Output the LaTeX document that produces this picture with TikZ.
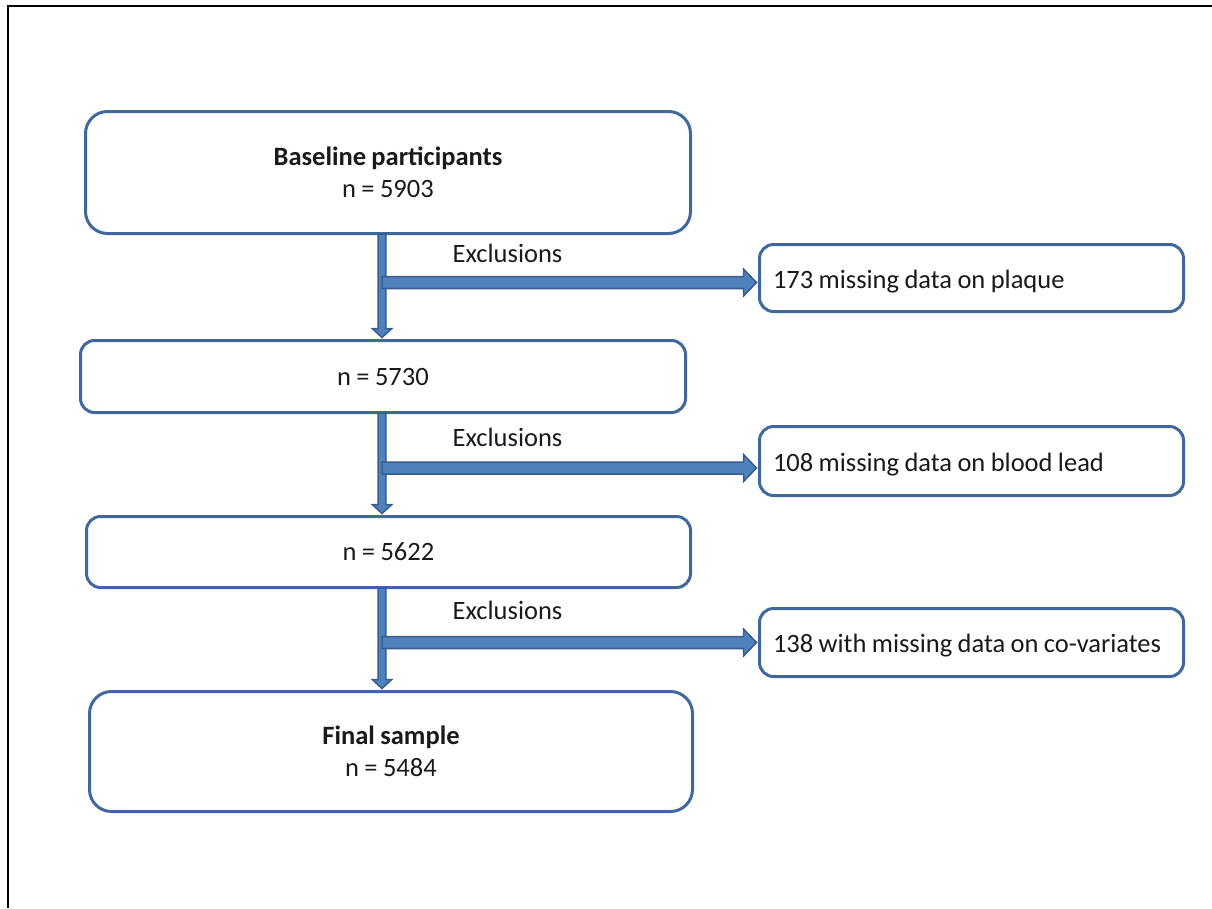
\documentclass[tikz,border=0pt]{standalone}
\usepackage{fontspec}
\setmainfont{Carlito}[WordSpace=0.9]
\usetikzlibrary{calc}
\definecolor{boxline}{HTML}{40689C}
\definecolor{arrfill}{HTML}{4F81BD}
\definecolor{arrline}{HTML}{385D8A}
\definecolor{txt}{HTML}{1A1A1A}
\tikzset{
  every node/.style={font=\fontsize{26.5}{32}\selectfont, text=txt},
  bigbox/.style={draw=boxline, line width=3pt, fill=white, rounded corners=22pt, inner sep=0pt, align=center},
  smallbox/.style={draw=boxline, line width=3pt, fill=white, rounded corners=14pt, inner sep=0pt, align=center},
  sidebox/.style={draw=boxline, line width=3pt, fill=white, rounded corners=14pt, inner xsep=13.5pt, inner ysep=0pt,
    minimum width=424pt, text height=22pt, text depth=2pt},
  vfat/.style={fill=arrfill, draw=arrline, line width=1.5pt, line join=miter,
    to path={($(\tikztostart)+(-3.8,0)$) -- ($(\tikztotarget)+(-3.8,-9)$) -- ($(\tikztotarget)+(-9.8,-9)$)
      -- (\tikztotarget) -- ($(\tikztotarget)+(9.8,-9)$) -- ($(\tikztotarget)+(3.8,-9)$)
      -- ($(\tikztostart)+(3.8,0)$) -- cycle}},
  hfat/.style={fill=arrfill, draw=arrline, line width=1.5pt, line join=miter,
    to path={($(\tikztostart)+(0,-6)$) -- ($(\tikztotarget)+(-13,-6)$) -- ($(\tikztotarget)+(-13,-13.5)$)
      -- (\tikztotarget) -- ($(\tikztotarget)+(-13,13.5)$) -- ($(\tikztotarget)+(-13,6)$)
      -- ($(\tikztostart)+(0,6)$) -- cycle}},
  exlabel/.style={inner sep=0pt}
}
\newcommand{\sidetext}[1]{\makebox[397pt][l]{#1}}
\begin{document}
\begin{tikzpicture}[x=1pt,y=-1pt]
\useasboundingbox (0,0) rectangle (1212,908);
% frame
\draw[black, line width=2.2pt] (8,908) -- (8,6) -- (1212,6);

% main boxes
\node[bigbox, minimum width=605pt, minimum height=122pt] (b1) at (388,172.5)
  {\textbf{Baseline participants}\\n = 5903};
\node[smallbox, minimum width=605pt, minimum height=72pt] (b2) at (383,376.5) {n = 5730};
\node[smallbox, minimum width=604pt, minimum height=71pt] (b3) at (388.5,552) {n = 5622};
\node[bigbox, minimum width=603pt, minimum height=120pt] (b4) at (391,751.5)
  {\textbf{Final sample}\\n = 5484};

% side boxes
\node[sidebox, minimum height=67pt] (r1) at (971.5,278) {\sidetext{173 missing data on plaque}};
\node[sidebox, minimum height=69pt] (r2) at (971.5,461) {\sidetext{108 missing data on blood lead}};
\node[sidebox, minimum height=68pt] (r3) at (971.5,642.5) {\sidetext{138 with missing data on co-variates}};

% labels
\node[exlabel] (e1) at (507.5,253) {Exclusions};
\node[exlabel] (e2) at (507.5,437) {Exclusions};
\node[exlabel] (e3) at (507.5,610) {Exclusions};

% axis of the vertical arrows
\coordinate (ax) at (382,0);

% vertical arrows
\draw[vfat] ($(b1.south -| ax)+(0,-1)$) to ($(b2.north -| ax)+(0,-1.5)$);
\draw[vfat] ($(b2.south -| ax)+(0,-1)$) to ($(b3.north -| ax)+(0,-1.5)$);
\draw[vfat] ($(b3.south -| ax)+(0,-1)$) to ($(b4.north -| ax)+(0,-1.5)$);

% horizontal arrows
\draw[hfat] ($(ax |- r1.west)+(0,4.5)$) to ($(r1.west)+(-1.5,4.5)$);
\draw[hfat] ($(ax |- r2.west)+(0,7)$) to ($(r2.west)+(-1.5,7)$);
\draw[hfat] ($(ax |- r3.west)+(0,0)$) to ($(r3.west)+(-1.5,0)$);
\end{tikzpicture}
\end{document}
